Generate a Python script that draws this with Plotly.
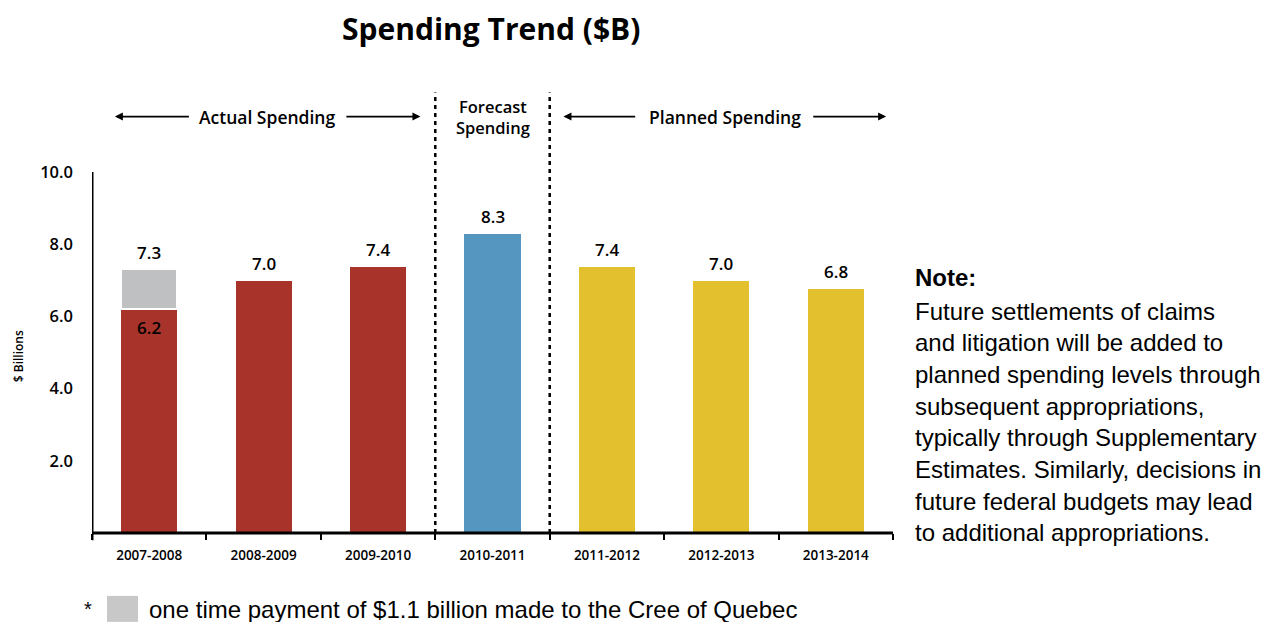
import plotly.graph_objects as go

# Fiscal years and spending values ($ billions)
years = ["2007-2008", "2008-2009", "2009-2010", "2010-2011",
         "2011-2012", "2012-2013", "2013-2014"]
spending = [6.2, 7.0, 7.4, 8.3, 7.4, 7.0, 6.8]
one_time_payment = [1.1, 0, 0, 0, 0, 0, 0]
bar_colors = ["#A8332A", "#A8332A", "#A8332A", "#5596C1",
              "#E2C02E", "#E2C02E", "#E2C02E"]
y_ticks = [2, 4, 6, 8, 10]
note_lines = [
    "Future settlements of claims",
    "and litigation will be added to",
    "planned spending levels through",
    "subsequent appropriations,",
    "typically through Supplementary",
    "Estimates. Similarly, decisions in",
    "future federal budgets may lead",
    "to additional appropriations.",
]
footnote = "one time payment of $1.1 billion made to the Cree of Quebec"

BOLD = "Open Sans"
SANS = "Liberation Sans, Arial, sans-serif"
GRAY = "#BFC0C2"

fig = go.Figure()
fig.add_trace(go.Bar(
    x=years, y=spending, marker=dict(color=bar_colors, line=dict(width=0)),
    width=0.49, showlegend=False, hoverinfo="skip",
))
fig.add_trace(go.Bar(
    x=years, y=one_time_payment, marker=dict(color=GRAY, line=dict(color="white", width=2)),
    width=0.49, showlegend=False, hoverinfo="skip",
))

px_to_py = lambda py: (533 - py) / 361.5

annotations = []
val_font = dict(family=BOLD, size=17, color="black", weight=600)
# value labels above each bar
totals = [s + p for s, p in zip(spending, one_time_payment)]
for yr, tot in zip(years, totals):
    annotations.append(dict(
        x=yr, y=tot, xref="x", yref="y", text=f"{tot:.1f}", showarrow=False,
        yanchor="bottom", yshift=3, font=val_font,
    ))
# base value of the split bar, shown inside it
for yr, s, p in zip(years, spending, one_time_payment):
    if p > 0:
        annotations.append(dict(
            x=yr, y=s, xref="x", yref="y", text=f"{s:.1f}", showarrow=False,
            yanchor="top", yshift=-5, font=val_font,
        ))

# section headers with arrows
hdr_y = px_to_py(116)
hdr_font = dict(family=BOLD, size=17.5, color="black", weight=600)
annotations += [
    dict(x=1.03, y=hdr_y, xref="x", yref="paper", text="Actual Spending",
         showarrow=False, yanchor="middle", font=hdr_font),
    dict(x=5.03, y=hdr_y, xref="x", yref="paper", text="Planned Spending",
         showarrow=False, yanchor="middle", font=hdr_font),
    dict(x=3.0, y=px_to_py(116), xref="x", yref="paper", text="Forecast<br>Spending",
         showarrow=False, yanchor="middle",
         font=dict(family=BOLD, size=16.5, color="black", weight=600)),
]
for head, tail in [(-0.30, 0.36), (2.37, 1.71), (3.62, 4.26), (6.44, 5.79)]:
    annotations.append(dict(
        x=head, y=hdr_y, xref="x", yref="paper", ax=tail, ay=0,
        axref="x", ayref="pixel", text="", showarrow=True,
        arrowhead=2, arrowsize=1.0, arrowwidth=1.6, arrowcolor="black",
    ))

# title
annotations.append(dict(
    x=0.498, y=px_to_py(28), xref="paper", yref="paper", text="Spending Trend ($B)",
    showarrow=False, yanchor="middle", xanchor="center",
    font=dict(family=BOLD, size=30, color="black", weight=700),
))

# y axis title
annotations.append(dict(
    x=(18 - 92) / 801, y=px_to_py(356), xref="paper", yref="paper", text="$ Billions",
    showarrow=False, textangle=-90, xanchor="center", yanchor="middle",
    font=dict(family=BOLD, size=12, color="black", weight=600),
))

# note block at right
note_x = (913 - 92) / 801
annotations.append(dict(
    x=note_x, y=px_to_py(277), xref="paper", yref="paper", text="<b>Note:</b>",
    showarrow=False, xanchor="left", yanchor="middle",
    font=dict(family=SANS, size=24, color="black"),
))
for i, line in enumerate(note_lines):
    annotations.append(dict(
        x=note_x, y=px_to_py(311 + 31.7 * i), xref="paper", yref="paper", text=line,
        showarrow=False, xanchor="left", yanchor="middle",
        font=dict(family=SANS, size=24, color="black"),
    ))

# footnote
annotations.append(dict(
    x=(88 - 92) / 801, y=px_to_py(609), xref="paper", yref="paper", text="*",
    showarrow=False, xanchor="center", yanchor="middle",
    font=dict(family=SANS, size=20, color="black"),
))
annotations.append(dict(
    x=(147 - 92) / 801, y=px_to_py(610), xref="paper", yref="paper", text=footnote,
    showarrow=False, xanchor="left", yanchor="middle",
    font=dict(family=SANS, size=24, color="black"),
))

shapes = [
    # dotted section dividers
    dict(type="line", xref="x", yref="paper", x0=2.5, x1=2.5, y0=0, y1=px_to_py(92),
         line=dict(color="black", width=2.5, dash="4px,4px")),
    dict(type="line", xref="x", yref="paper", x0=3.5, x1=3.5, y0=0, y1=px_to_py(92),
         line=dict(color="black", width=2.5, dash="4px,4px")),
    # axis lines
    dict(type="line", xref="x", yref="paper", x0=-0.59, x1=6.5, y0=0, y1=0,
         line=dict(color="black", width=3)),
    dict(type="line", xref="x", yref="paper", x0=-0.5, x1=-0.5, y0=-0.02, y1=1.0,
         line=dict(color="black", width=3)),
    # footnote swatch
    dict(type="rect", xref="paper", yref="paper",
         x0=(107 - 92) / 801, x1=(138 - 92) / 801,
         y0=px_to_py(622), y1=px_to_py(596),
         fillcolor="#C8C8C8", line=dict(width=0)),
]

fig.update_layout(
    width=1268, height=622,
    margin=dict(l=92, r=375, t=171.5, b=89),
    paper_bgcolor="white", plot_bgcolor="white",
    barmode="stack", bargap=0.51,
    annotations=annotations, shapes=shapes,
    xaxis=dict(
        type="category", range=[-0.5, 6.5], showgrid=False, showline=False,
        zeroline=False, ticks="outside", tickson="boundaries", ticklen=6,
        tickwidth=2, tickcolor="black", ticklabelstandoff=12,
        tickfont=dict(family=BOLD, size=13.5, color="black", weight=600),
    ),
    yaxis=dict(
        range=[0, 10], showgrid=False, showline=False, zeroline=False,
        tickvals=y_ticks, ticktext=[f"{v:.1f}" for v in y_ticks],
        ticks="", ticklabelstandoff=18,
        tickfont=dict(family=BOLD, size=16.5, color="black", weight=600),
    ),
)

fig.write_html("out.html")
